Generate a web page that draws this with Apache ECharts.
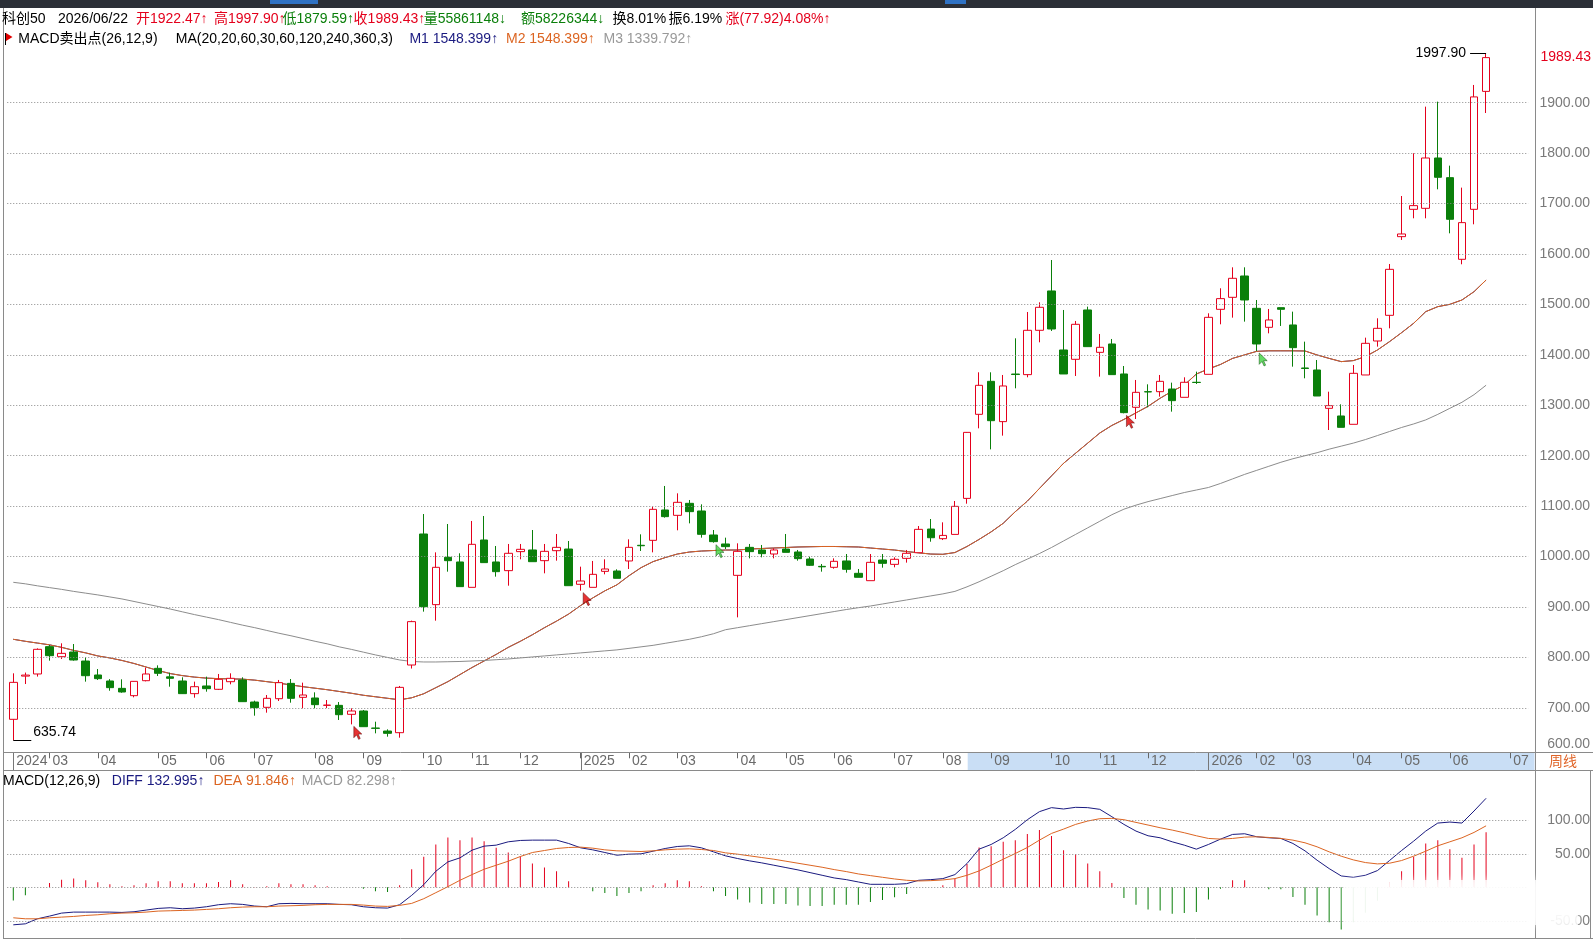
<!DOCTYPE html>
<html><head><meta charset="utf-8">
<script src="https://cdn.jsdelivr.net/npm/echarts@6/dist/echarts.min.js"></script>
<style>html,body{margin:0;padding:0;background:#fff;}#c{width:1593px;height:941px;}</style>
</head><body><div id="c"></div>
<script>
// ---------- DATA ----------
const dates = [
'2024-02-05','2024-02-19','2024-02-26','2024-03-04','2024-03-11','2024-03-18','2024-03-25','2024-04-01','2024-04-08','2024-04-15',
'2024-04-22','2024-04-29','2024-05-06','2024-05-13','2024-05-20','2024-05-27','2024-06-03','2024-06-10','2024-06-17','2024-06-24',
'2024-07-01','2024-07-08','2024-07-15','2024-07-22','2024-07-29','2024-08-05','2024-08-12','2024-08-19','2024-08-26','2024-09-02',
'2024-09-09','2024-09-16','2024-09-23','2024-09-30','2024-10-07','2024-10-14','2024-10-21','2024-10-28','2024-11-04','2024-11-11',
'2024-11-18','2024-11-25','2024-12-02','2024-12-09','2024-12-16','2024-12-23','2024-12-30','2025-01-06','2025-01-13','2025-01-20',
'2025-01-27','2025-02-03','2025-02-10','2025-02-17','2025-02-24','2025-03-03','2025-03-10','2025-03-17','2025-03-24','2025-03-31',
'2025-04-07','2025-04-14','2025-04-21','2025-04-28','2025-05-05','2025-05-12','2025-05-19','2025-05-26','2025-06-02','2025-06-09',
'2025-06-16','2025-06-23','2025-06-30','2025-07-07','2025-07-14','2025-07-21','2025-07-28','2025-08-04','2025-08-11','2025-08-18',
'2025-08-25','2025-09-01','2025-09-08','2025-09-15','2025-09-22','2025-09-29','2025-10-06','2025-10-13','2025-10-20','2025-10-27',
'2025-11-03','2025-11-10','2025-11-17','2025-11-24','2025-12-01','2025-12-08','2025-12-15','2025-12-22','2025-12-29','2026-01-05',
'2026-01-12','2026-01-19','2026-01-26','2026-02-02','2026-02-09','2026-02-23','2026-03-02','2026-03-09','2026-03-16','2026-03-23',
'2026-03-30','2026-04-06','2026-04-13','2026-04-20','2026-04-27','2026-05-04','2026-05-11','2026-05-18','2026-05-25','2026-06-01',
'2026-06-08','2026-06-15','2026-06-22','2026-06-29','2026-07-06','2026-07-13'];

const opens = [677.3,763.0,767.2,821.4,801.5,810.8,792.9,765.2,753.3,738.7,
724.2,753.9,778.4,761.5,753.3,728.2,743.4,736.8,751.9,755.3,
711.6,701.1,718.2,748.6,720.9,719.6,705.0,705.0,687.2,693.8,
660.0,654.1,650.8,785.0,1044.8,904.7,998.5,989.3,939.0,1032.9,
989.3,972.1,1009.8,1013.1,991.9,1011.7,1015.0,945.0,939.0,970.7,
971.4,991.3,1022.4,1032.2,1092.4,1081.8,1105.6,1090.4,1042.8,1025.0,
962.8,1018.3,1013.1,1005.1,1015.0,1009.1,995.2,980.6,978.7,991.3,
966.8,952.2,993.2,984.6,996.5,1007.7,1054.6,1035.5,1044.0,1115.4,
1282.1,1347.5,1267.6,1362.0,1360.8,1448.7,1526.7,1409.7,1391.2,1489.0,
1405.0,1421.6,1362.1,1296.0,1327.0,1327.0,1332.3,1315.8,1345.6,1361.4,
1490.3,1514.1,1556.4,1492.3,1454.6,1493.6,1459.3,1374.0,1370.0,1294.0,
1278.8,1262.3,1360.1,1427.5,1478.4,1634.4,1688.6,1690.6,1790.4,1751.4,
1589.5,1688.6,1922.47];
const closes = [750.6,765.0,816.1,803.5,808.1,794.9,763.8,757.9,740.1,731.5,
752.6,767.2,768.5,758.6,728.2,742.0,738.1,756.6,758.6,712.3,
700.4,718.9,750.0,718.9,725.5,706.4,705.5,686.5,693.8,662.7,
659.4,649.5,740.7,871.0,900.7,978.7,991.9,940.4,1024.3,988.0,
970.1,1006.5,1014.4,989.9,1010.4,1018.3,942.3,951.6,964.8,975.4,
956.9,1018.3,1021.5,1093.7,1079.2,1107.6,1089.1,1044.1,1029.6,1019.7,
1010.4,1009.8,1005.8,1013.1,1008.4,995.9,982.7,979.7,990.6,974.7,
958.9,988.6,986.6,994.6,1006.5,1054.0,1037.4,1042.0,1099.6,1246.3,
1339.6,1269.5,1338.3,1361.0,1448.7,1494.3,1451.3,1362.1,1460.6,1416.3,
1415.0,1360.8,1285.4,1325.7,1326.5,1347.5,1309.2,1345.6,1345.2,1474.4,
1511.5,1551.8,1508.8,1421.6,1469.2,1490.3,1414.3,1373.0,1318.4,1299.3,
1256.3,1363.4,1422.9,1452.6,1569.6,1639.7,1695.9,1790.4,1752.1,1668.8,
1662.2,1911.51,1989.43];
const lows = [635.74,747.3,762.0,793.6,797.0,793.6,752.0,755.3,734.0,730.1,
720.9,752.6,763.2,742.0,727.5,720.2,732.1,735.4,746.7,712.0,
684.5,690.5,713.6,710.3,699.1,699.1,699.7,676.0,667.3,662.7,
649.5,642.9,640.9,778.0,890.8,872.9,970.1,940.4,939.0,988.0,
960.2,942.3,994.6,989.9,966.8,991.9,942.3,932.4,939.0,964.8,
956.9,975.4,1011.1,1008.4,1077.2,1052.1,1065.9,1037.5,1027.6,1015.0,
879.5,996.5,998.5,996.5,1008.4,991.9,981.3,970.1,976.0,968.1,
958.9,952.2,978.0,978.7,988.0,1007.7,1029.5,1032.8,1044.0,1104.9,
1254.3,1212.6,1239.8,1333.7,1355.5,1424.9,1447.4,1362.1,1358.1,1416.3,
1356.8,1360.8,1284.1,1272.8,1296.0,1317.1,1287.4,1315.8,1342.3,1361.4,
1460.6,1473.8,1465.9,1407.7,1442.7,1457.3,1376.6,1353.5,1318.4,1251.0,
1256.3,1262.3,1360.1,1416.3,1452.6,1627.8,1670.8,1670.8,1728.3,1641.0,
1579.6,1658.9,1879.59];
const highs = [768.5,770.0,818.0,824.7,828.0,826.6,800.2,777.0,757.0,756.6,
753.0,779.7,784.3,769.8,760.6,752.0,761.9,767.2,768.5,760.6,
714.3,725.5,755.3,757.2,750.0,730.8,715.6,711.6,699.1,695.8,
672.6,657.4,743.4,873.0,1084.4,1008.4,1064.6,1006.5,1070.6,1080.5,
1021.0,1025.0,1025.0,1052.7,1025.0,1044.8,1030.9,980.0,991.3,994.6,
974.7,1034.2,1044.1,1099.0,1140.0,1125.4,1112.2,1103.6,1052.7,1037.5,
1026.3,1025.0,1023.0,1016.4,1044.8,1013.1,999.8,985.3,996.5,1005.1,
975.4,1005.1,1005.1,998.5,1013.1,1060.6,1074.5,1067.9,1110.2,1247.0,
1365.4,1365.4,1360.1,1432.8,1485.0,1504.2,1588.1,1489.0,1467.2,1495.6,
1441.4,1431.5,1377.9,1350.2,1341.6,1360.1,1344.9,1355.5,1366.7,1482.4,
1532.0,1573.6,1573.6,1508.8,1491.0,1493.6,1485.7,1426.2,1389.8,1327.0,
1301.9,1379.9,1434.1,1472.5,1580.2,1715.0,1799.7,1892.2,1902.1,1775.2,
1731.6,1935.2,1997.90];

// MA20 (M1 = M2) and MA60 (M3)
const ma20 = [836,832,828.5,825,820,814,809,803,799,794,
788,781,774,768,764,761,759,758,757.5,757,
755,752,749,745.5,742,739,736,732.5,729,725,
722,719,716,720,728,740,752,766,780,793,
806,820,832,845,859,872,886,903,918,932,
944,962,978,990,998,1005,1009,1011,1012,1013,
1013,1015,1016,1017,1018,1019,1019.5,1020,1020,1019.5,
1019,1017,1015,1013,1010,1007.5,1005,1004.5,1008,1020,
1034,1049,1066,1089,1110,1135,1160,1185,1205,1225,
1245,1260,1272,1285,1298,1314,1328,1340,1362,1372,
1381,1393,1400,1407,1408,1408,1408,1407.7,1399.8,1393,
1386.6,1388.6,1396.5,1409.7,1426.2,1444,1462.6,1485.7,1495.6,1500.2,
1508.8,1525.3,1548.4];
const ma60 = [949,946,942,938.5,935,931,927.5,924,920,916,
911,906,901,896,890.5,885,880,875,869.5,864,
859,853.5,848,843,837.5,832,827,821,816,810.5,
805,800,795,792,791,791,791.5,792,793,794,
795.5,797,799,801,803,805,807,809,811,813,
815,818,821,824,828,832,836,841,847,855,
859,863,867,871,875,879,883,887,891,895,
898.6,902,906,910,914,918,922,926,931,940,
950,961,972,984,995,1006,1018,1031,1044,1057,
1070,1083,1094,1102,1109,1115,1121,1127,1132,1137,
1145,1154,1163,1171,1179,1187,1194,1200,1206,1213,
1219,1225,1232,1240,1248,1256,1263,1271,1282,1294,
1306,1321,1339.8];

// MACD(12,26,9)
const diffs = [-56,-54.5,-47,-43,-38.5,-37,-37,-37,-37,-37.5,
-36.5,-34,-31.5,-30.5,-32,-31,-29,-26,-24.5,-25.5,
-28,-29,-24.5,-24,-24.5,-24.5,-24.5,-25.5,-26,-29,
-30.5,-31,-26,-12,4,24,38,44,55.5,61.5,
63,68,70,70.5,70.5,70.5,65.5,59,56,52,
48,49.5,50,54,58,61,62,59,53,47,
43,39.5,36.5,33,29.5,26,22,18,14,11.5,
8,4.5,4.5,4.5,5.5,10.5,11.5,13,19,35.5,
57,64,74,86.5,101,113,119,117,119.5,119,
116.5,105.5,94,84,77,74,68,63,57,64,
72,79,80,75.5,74,73,65.5,54.5,40.5,28,
17,15,18,25,40,55,69,84,96,97.5,
96,114,132.995];
const deas = [-45.5,-47,-47,-45.5,-44.5,-43.5,-42,-41,-39.5,-38.5,
-38,-37,-35.5,-35,-34.5,-34,-33,-32,-30.5,-29.5,
-29,-29,-28,-27.5,-27,-26,-25.5,-25.5,-25.5,-26.5,
-28,-28.5,-27,-24,-17,-8,1,10.5,19,27,
33,39,46,52,55,58,59.5,60,58.5,56,
54.5,54,53.5,54.5,56,57,57.5,56.5,55,51.5,
49.5,47,44.5,42,39,36,33,30,26.5,23.5,
20,17.5,15,12.5,10.5,9.5,10,11,13,18,
24.5,33,42,50.5,59.5,70.5,80.5,87,94,99,
102.5,103,101,97,93,89,85.5,81.5,77,73,
72,73,75,75.5,74.5,73,70.5,66.5,60.5,53,
46.5,41,37,35,36,40,46.5,54,62,68,
74,82,91.846];
const macdHist = [-19.5,-12,0,6.5,11.5,13,10.5,7.5,4.5,1.5,
3,6,9,9,6,6,6,8,10.5,4.5,
0.5,1.5,6,4.5,4.5,3,1.5,0,0,-2,
-6,-7,3,27,45.5,64,74.5,70.5,74.5,69,
59,52,46.5,35.5,29.5,24,9,0,-6,-8.5,
-13,-8.5,-6,3,6,10.5,9,1.5,-6,-13,
-18,-22.5,-25,-25,-25,-27,-28,-28,-26,-26,
-26,-22,-19,-15,-10,0,0,3,13,35,
59.5,61.5,68,70.5,79.5,85.5,76.5,55.5,49.5,35.5,
24,6.5,-16,-26,-33,-34.5,-39.5,-38.5,-37,-18,
-2,10.5,10.5,0,-3,-3,-14.5,-26,-42,-52,
-63,-52,-38,-20,8,24,45.5,65.5,70.5,57,
44,64,82.298];

const sellIdx = [28, 47, 92];   // MACD sell-point markers
const buyIdx = [58, 103];       // buy-point markers
const priceTicks = [600,700,800,900,1000,1100,1200,1300,1400,1500,1600,1700,1800,1900];
const macdTicks = [-50, 50, 100];
const macdGridTicks = [-50, 0, 50, 100];

const header1 = ['科创50','2026/06/22','开1922.47↑','高1997.90↑','低1879.59↑','收1989.43↑','量55861148↓','额58226344↓','换8.01%','振6.19%','涨(77.92)4.08%↑'];
const header2 = ['MACD卖出点(26,12,9)','MA(20,20,60,30,60,120,240,360,3)','M1 1548.399↑','M2 1548.399↑','M3 1339.792↑'];
const header3 = ['MACD(12,26,9)','DIFF 132.995↑','DEA 91.846↑','MACD 82.298↑'];

// ---------- STYLE / LAYOUT ----------
const FONT = '"Liberation Sans","Noto Sans CJK SC",sans-serif';
const RED = '#e4001c', GREEN = '#0a7f0a', NAVY = '#1a1a80', ORANGE = '#dc6522', GRAYL = '#8c8c8c', AX = '#7a7a7a';
const N = dates.length, BW = 12.08, GL = 7.26;
const GR = 1593 - (GL + BW * N);

function monthLabel(i) {
  if (i < 0 || i >= dates.length) return '';
  const d = dates[i], m = d.slice(5, 7);
  if (i === 0 || (m === '01' && dates[i - 1].slice(5, 7) !== m)) return d.slice(0, 4);
  if (dates[i - 1].slice(5, 7) !== m) return m;
  return '';
}
const showTick = (i) => monthLabel(i) !== '';

const chart = echarts.init(document.getElementById('c'), null, {renderer: 'canvas'});
const gridLineStyle = {color: '#8a8a8a', type: [1, 2], width: 1};

chart.setOption({
  animation: false,
  backgroundColor: '#fff',
  textStyle: {fontFamily: FONT},
  grid: [
    {left: GL, right: GR, top: 11.94, bottom: 182.7},
    {left: GL, right: GR, top: 786.9, bottom: 20.2}
  ],
  xAxis: [
    {type: 'category', gridIndex: 0, data: dates, boundaryGap: true,
     axisLine: {show: false},
     axisTick: {show: true, inside: true, length: 6, alignWithLabel: true, interval: (i) => showTick(i), lineStyle: {color: '#666'}},
     axisLabel: {interval: (i) => showTick(i), formatter: (v, i) => monthLabel(i), align: 'left', verticalAlign: 'middle',
                 margin: 3, padding: [0, 0, 0, 3], color: '#6a6a6a', fontSize: 14, fontFamily: FONT},
     splitLine: {show: false}},
    {type: 'category', gridIndex: 1, data: dates, boundaryGap: true,
     axisLine: {show: false}, axisTick: {show: false}, axisLabel: {show: false}, splitLine: {show: false}}
  ],
  yAxis: [
    {type: 'value', gridIndex: 0, position: 'right', min: 600, max: 2080, interval: 100,
     axisLine: {show: false}, axisTick: {show: false}, splitLine: {show: false},
     axisLabel: {align: 'right', margin: 1591 - (1593 - GR), color: AX, fontSize: 14, fontFamily: FONT,
       formatter: (v) => priceTicks.includes(v) ? (v === priceTicks[0] ? '{lo|' + v.toFixed(2) + '}' : v.toFixed(2)) : '',
       rich: {lo: {padding: [0, 0, 29, 0], color: AX, fontSize: 14, fontFamily: FONT}}}},
    {type: 'value', gridIndex: 1, position: 'right', min: -50, max: 150, interval: 50,
     axisLine: {show: false}, axisTick: {show: false},
     splitLine: {show: false},
     axisLabel: {align: 'right', margin: 1591 - (1593 - GR), color: AX, fontSize: 14, fontFamily: FONT,
       formatter: (v) => macdTicks.includes(v) ? v.toFixed(2) : ''}}
  ],
  series: [
    {type: 'candlestick', xAxisIndex: 0, yAxisIndex: 0, z: 4, barWidth: 8,
     data: opens.map((o, i) => [o, closes[i], lows[i], highs[i]]),
     itemStyle: {color: '#ffffff', color0: GREEN, borderColor: RED, borderColor0: GREEN, borderWidth: 1},
     markLine: {silent: true, symbol: ['none', 'none'], label: {show: false}, animation: false,
       lineStyle: gridLineStyle, emphasis: {disabled: true},
       data: priceTicks.slice(1).map(v => ({yAxis: v}))}},
    {type: 'line', name: 'M1', xAxisIndex: 0, yAxisIndex: 0, data: ma20, symbol: 'none', silent: true, z: 2,
     lineStyle: {color: NAVY, width: 1}},
    {type: 'line', name: 'M2', xAxisIndex: 0, yAxisIndex: 0, data: ma20, symbol: 'none', silent: true, z: 3,
     lineStyle: {color: ORANGE, width: 1}},
    {type: 'line', name: 'M3', xAxisIndex: 0, yAxisIndex: 0, data: ma60, symbol: 'none', silent: true, z: 3,
     lineStyle: {color: GRAYL, width: 1}},
    {type: 'scatter', xAxisIndex: 0, yAxisIndex: 0, z: 6, silent: true,
     data: sellIdx.map(i => [i, lows[i]]),
     symbol: 'path://M0 0L0 14L3.5 10.5L6 16L8 15L5.5 9.5L10 9.5Z', symbolSize: [8, 13], symbolOffset: [6.5, 8.5],
     itemStyle: {color: '#e00000', borderColor: '#5a0000', borderWidth: 0.6}},
    {type: 'scatter', xAxisIndex: 0, yAxisIndex: 0, z: 6, silent: true,
     data: buyIdx.map(i => [i, lows[i]]),
     symbol: 'path://M0 0L0 14L3.5 10.5L6 16L8 15L5.5 9.5L10 9.5Z', symbolSize: [8, 13], symbolOffset: [6.5, 8.5],
     itemStyle: {color: '#3fd23f', borderColor: '#0b4d0b', borderWidth: 0.6}},
    {type: 'bar', xAxisIndex: 1, yAxisIndex: 1, barWidth: 1, clip: false, silent: true, z: 3,
     data: macdHist.map(v => ({value: v, itemStyle: {color: v >= 0 ? RED : GREEN}})),
     markLine: {silent: true, symbol: ['none', 'none'], label: {show: false}, animation: false,
       lineStyle: gridLineStyle, data: macdGridTicks.map(v => ({yAxis: v}))}},
    {type: 'line', xAxisIndex: 1, yAxisIndex: 1, data: diffs, symbol: 'none', silent: true, clip: false, z: 4,
     lineStyle: {color: NAVY, width: 1}},
    {type: 'line', xAxisIndex: 1, yAxisIndex: 1, data: deas, symbol: 'none', silent: true, clip: false, z: 4,
     lineStyle: {color: ORANGE, width: 1}}
  ]
});

// ---------- DECORATIONS & ANNOTATIONS ----------
const P = (i, v) => chart.convertToPixel({gridIndex: 0}, [i, v]);
const F14 = '14px ' + FONT;
const g = [];
function txt(x, y, s, fill, align, va, z) {
  g.push({type: 'text', x: x, y: y, z: z || 60, silent: true,
    style: {text: s, fill: fill, font: F14, align: align || 'left', verticalAlign: va || 'middle',
            textAlign: align || 'left', textVerticalAlign: va || 'middle'}});
}
function line(x1, y1, x2, y2, c, z) {
  g.push({type: 'line', z: z || 50, silent: true, shape: {x1, y1, x2, y2}, style: {stroke: c, lineWidth: 1}});
}
// top dark strip
g.push({type: 'rect', z: 70, silent: true, shape: {x: 0, y: 0, width: 1593, height: 8}, style: {fill: '#2b2f37'}});
g.push({type: 'rect', z: 71, silent: true, shape: {x: 270, y: 0, width: 48, height: 4}, style: {fill: '#2f72c4'}});
g.push({type: 'rect', z: 71, silent: true, shape: {x: 945, y: 0, width: 21, height: 4}, style: {fill: '#2f72c4'}});
// blue selection band in the date bar
g.push({type: 'rect', z: -10, silent: true, shape: {x: 967.7, y: 753, width: 566.8, height: 17}, style: {fill: '#c9def5'}});
// frame lines
const FR = '#8a8a8a';
line(3.5, 8, 3.5, 938, FR);
line(1535.5, 8, 1535.5, 938, FR);
line(1590.5, 770, 1590.5, 938, FR);
line(3, 752.5, 1593, 752.5, FR);
line(3, 770.5, 1593, 770.5, FR);
line(3, 938.5, 1593, 938.5, FR);
// year separators
dates.forEach((d, i) => {
  const lab = monthLabel(i);
  if (lab.length === 4) { const x = Math.round(P(i, 1000)[0]) + 0.5; line(x, 753, x, 770, '#777'); }
});
txt(1549, 762, '周线', '#e0662a');
// header rows
const h1x = [2, 58, 136, 214, 282.5, 353.6, 423.7, 521, 612.6, 668.5, 725.4];
const h1c = ['#000', '#000', RED, RED, GREEN, RED, GREEN, GREEN, '#000', '#000', RED];
header1.forEach((s, k) => txt(h1x[k], 19.5, s, h1c[k]));
const h2x = [18.3, 175.8, 409.4, 506, 603.5];
const h2c = ['#000', '#000', NAVY, ORANGE, '#999'];
header2.forEach((s, k) => txt(h2x[k], 38.8, s, h2c[k]));
g.push({type: 'polygon', z: 60, silent: true, shape: {points: [[6, 33], [12.5, 37], [6, 41]]}, style: {fill: '#e00000'}});
line(5.5, 33, 5.5, 45, '#000', 60);
const h3x = [3, 111.8, 213.4, 301.7];
const h3c = ['#000', NAVY, ORANGE, '#999'];
header3.forEach((s, k) => txt(h3x[k], 781.5, s, h3c[k]));
// high / low / last labels
const last = opens.length - 1;
let hiI = 0, loI = 0;
highs.forEach((v, i) => { if (v > highs[hiI]) hiI = i; });
lows.forEach((v, i) => { if (v < lows[loI]) loI = i; });
const ph = P(hiI, highs[hiI]);
line(ph[0] - 16, Math.round(ph[1]) + 0.5, ph[0], Math.round(ph[1]) + 0.5, '#000');
txt(ph[0] - 20, ph[1], highs[hiI].toFixed(2), '#000', 'right');
const pl = P(loI, lows[loI]);
line(pl[0], Math.round(pl[1]) + 0.5, pl[0] + 18, Math.round(pl[1]) + 0.5, '#000');
txt(pl[0] + 20, pl[1] - 8.6, lows[loI].toFixed(2), '#000', 'left');
const pc = P(last, closes[last]);
txt(1591, pc[1], closes[last].toFixed(2), RED, 'right');
// washed-out overlay patch in the lower-right of the MACD panel
g.push({type: 'rect', z: 100, silent: true, shape: {x: 1344, y: 880, width: 234, height: 45},
  style: {fill: 'rgba(255,255,255,0.78)', shadowBlur: 8, shadowColor: 'rgba(255,255,255,0.9)'}});

chart.setOption({graphic: g});
</script>
</body></html>
